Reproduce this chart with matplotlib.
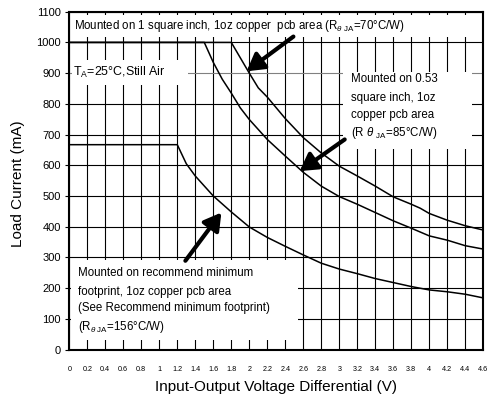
import matplotlib
matplotlib.use("Agg")
import matplotlib.pyplot as plt
from matplotlib.patches import Rectangle

plt.rcParams['font.family'] = ['Liberation Sans', 'DejaVu Sans']
plt.rcParams['mathtext.fontset'] = 'custom'
plt.rcParams['mathtext.rm'] = 'Liberation Sans'
plt.rcParams['mathtext.it'] = 'Liberation Sans:italic'

# ---- data ----
v_70 = [0, 1.8, 1.9, 2.0, 2.1, 2.2, 2.4, 2.6, 2.8, 3.0, 3.2, 3.4, 3.6, 3.8, 3.9, 4.0, 4.2, 4.4, 4.6]
i_70 = [1000, 1000, 950, 900, 852, 822, 752, 690, 640, 597, 565, 532, 497, 473, 460, 443, 421, 403, 389]

v_85 = [0, 1.5, 1.6, 1.7, 1.8, 1.9, 2.0, 2.2, 2.4, 2.6, 2.8, 3.0, 3.2, 3.4, 3.6, 3.8, 4.0, 4.2, 4.4, 4.6]
i_85 = [1000, 1000, 935, 880, 835, 787, 749, 684, 630, 577, 532, 498, 473, 446, 419, 395, 370, 356, 338, 327]

v_156 = [0, 1.2, 1.3, 1.4, 1.6, 1.8, 2.0, 2.2, 2.4, 2.6, 2.8, 3.0, 3.2, 3.4, 3.6, 3.8, 4.0, 4.2, 4.4, 4.6]
i_156 = [667, 667, 605, 565, 500, 448, 399, 365, 336, 308, 281, 262, 247, 231, 218, 205, 194, 188, 180, 168]

x_ticks = [round(0.2 * k, 1) for k in range(24)]
x_tick_labels = ['0', '0.2', '0.4', '0.6', '0.8', '1', '1.2', '1.4', '1.6', '1.8', '2', '2.2',
                 '2.4', '2.6', '2.8', '3', '3.2', '3.4', '3.6', '3.8', '4', '4.2', '4.4', '4.6']
y_ticks = list(range(0, 1101, 100))

fig = plt.figure(figsize=(4.91, 4.01), dpi=100)
ax = fig.add_axes([0.1411, 0.1284, 0.9843 - 0.1411, 0.9708 - 0.1284])
ax.set_xlim(0, 4.6)
ax.set_ylim(0, 1100)

ax.set_xticks(x_ticks)
ax.set_xticklabels(x_tick_labels, fontsize=5.2)
ax.set_yticks(y_ticks)
ax.tick_params(axis='x', length=0, pad=12)
ax.tick_params(axis='y', length=3, width=0.8, pad=3, labelsize=8, direction='out')

ax.grid(True, color='black', linewidth=0.8, zorder=0)
ax.set_axisbelow(True)
for ln, t in zip(ax.yaxis.get_gridlines(), y_ticks):
    if t == 900:
        ln.set_color('#808080')

for s in ax.spines.values():
    s.set_linewidth(1.5)
    s.set_zorder(5)

# white boxes hiding the grid under the notes
boxes = [(0.03, 1018, 4.53, 72), (0.03, 861, 1.29, 82), (3.04, 652, 1.43, 253), (0.02, 30, 2.52, 260)]
for (bx, by, bw, bh) in boxes:
    ax.add_patch(Rectangle((bx, by), bw, bh, facecolor='white', edgecolor='none', zorder=1))

ax.plot(v_70, i_70, color='black', lw=1.1, zorder=3)
ax.plot(v_85, i_85, color='black', lw=1.1, zorder=3)
ax.plot(v_156, i_156, color='black', lw=1.1, zorder=3)

fs = 8.3
ax.text(0.05, 1053, r'Mounted on 1 square inch, 1oz copper  pcb area (R$_{\theta\ \mathrm{JA}}$=70°C/W)',
        fontsize=fs, va='center', ha='left', zorder=4)
ax.text(0.04, 903, r'T$_\mathrm{A}$=25°C,Still Air', fontsize=8.9, va='center', ha='left', zorder=4)

right_lines = ['Mounted on 0.53', 'square inch, 1oz', 'copper pcb area', r'(R $\theta$ $_{\mathrm{JA}}$=85°C/W)']
for txt, yy in zip(right_lines, [880, 818, 764, 705]):
    ax.text(3.13, yy, txt, fontsize=fs, va='center', ha='left', zorder=4)

left_lines = ['Mounted on recommend minimum', 'footprint, 1oz copper pcb area',
              '(See Recommend minimum footprint)', r'(R$_{\theta\ \mathrm{JA}}$=156°C/W)']
for txt, yy in zip(left_lines, [248, 188, 134, 74]):
    ax.text(0.1, yy, txt, fontsize=fs, va='center', ha='left', zorder=4)

arrow_kw = dict(arrowstyle='-|>,head_length=0.6,head_width=0.35', lw=3.0, color='black',
                mutation_scale=17, shrinkA=0, shrinkB=0)
ax.annotate('', xy=(1.97, 906), xytext=(2.49, 1019), arrowprops=arrow_kw, zorder=6)
ax.annotate('', xy=(2.56, 581), xytext=(3.06, 684), arrowprops=arrow_kw, zorder=6)
ax.annotate('', xy=(1.69, 446), xytext=(1.29, 289), arrowprops=arrow_kw, zorder=6)

ax.set_xlabel('Input-Output Voltage Differential (V)', fontsize=11)
ax.set_ylabel('Load Current (mA)', fontsize=11)
ax.xaxis.set_label_coords(0.5, -0.09)
ax.yaxis.set_label_coords(-0.108, 0.49)

fig.savefig('out.png', dpi=100)
